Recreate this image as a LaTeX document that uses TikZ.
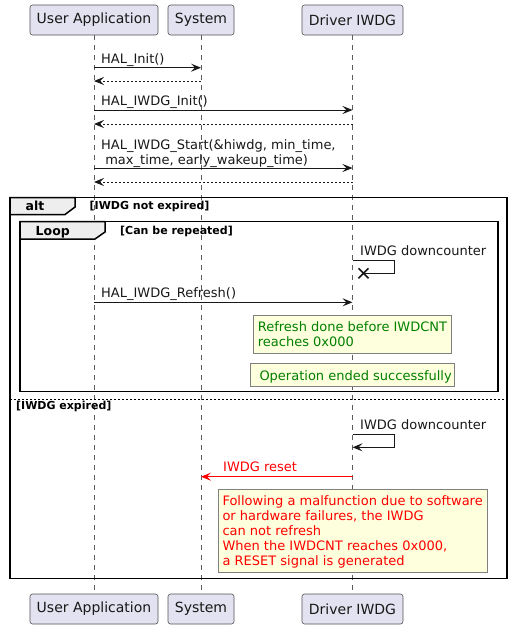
\documentclass[tikz,border=0pt]{standalone}
\usepackage{fontspec}
\setmainfont{DejaVu Sans}
\usetikzlibrary{arrows.meta,calc}
\definecolor{partfill}{HTML}{E2E2F0}
\definecolor{notefill}{HTML}{FEFFDD}
\definecolor{ink}{HTML}{181818}
\definecolor{tabfill}{HTML}{EEEEEE}
\definecolor{okgreen}{HTML}{008000}
\definecolor{errred}{HTML}{FF0000}
\begin{document}
\begin{tikzpicture}[x=1pt,y=-1pt,
  part/.style={draw=ink!75, fill=partfill, rounded corners=2.5, line width=0.6,
    font=\fontsize{14}{16}\selectfont, text=ink, inner sep=0},
  life/.style={draw=ink!70, line width=0.6, dash pattern=on 5pt off 5pt},
  msg/.style={draw=ink, line width=1, -{Stealth[length=10pt,width=8pt,inset=4pt]}},
  ret/.style={msg, dash pattern=on 2pt off 2pt},
  lbl/.style={anchor=base west, inner sep=0, text=ink, font=\fontsize{13}{15}\selectfont},
  mlbl/.style={anchor=north west, inner sep=0, align=left, font=\fontsize{13}{15}\selectfont},
  frame/.style={draw=black, line width=1.5},
  tab/.style={draw=black, line width=1.5, fill=tabfill},
  kw/.style={anchor=base west, inner sep=0, text=black, font=\fontsize{12.5}{14}\selectfont\bfseries},
  guard/.style={anchor=base west, inner sep=0, text=black, font=\fontsize{11}{13}\selectfont\bfseries},
  notebox/.style={draw=black!50, line width=0.6, fill=notefill},
]
\useasboundingbox[fill=white] (0,0) rectangle (513,629);

% participants
\node[part, minimum width=128, minimum height=30] (ua)  at (94,20)    {User Application};
\node[part, minimum width=66,  minimum height=30] (sys) at (201,20)   {System};
\node[part, minimum width=101, minimum height=30] (drv) at (352.5,20) {Driver IWDG};
\node[part, minimum width=128, minimum height=30] (uab)  at (94,609)    {User Application};
\node[part, minimum width=66,  minimum height=30] (sysb) at (201,609)   {System};
\node[part, minimum width=101, minimum height=30] (drvb) at (352.5,609) {Driver IWDG};

% lifelines
\draw[life] (ua.south) -- (uab.north);
\draw[life] (sys.south) -- (sysb.north);
\draw[life] (drv.south) -- (drvb.north);

% frames (drawn before messages)
\draw[frame] (10,197.5) rectangle (507,578.3);
\draw[tab] (10,197.5) -- (75,197.5) -- (75,207) -- (65,214.5) -- (10,214.5) -- cycle;
\node[kw] (altkw) at (25.5,210.5) {alt};
\node[guard] (g1) at (89.5,209.5) {[IWDG not expired]};

\draw[frame] (20,221.7) rectangle (498,391.7);
\draw[tab] (20,221.7) -- (105,221.7) -- (105,232) -- (95,239) -- (20,239) -- cycle;
\node[kw] (loopkw) at (35.5,235) {Loop};
\node[guard] (g2) at (120,234.5) {[Can be repeated]};

\draw[draw=black, line width=0.8, dash pattern=on 2pt off 2pt] (10,399.3) -- (507,399.3);
\node[guard] (g3) at (16,409) {[IWDG expired]};

% messages
\node[lbl] (m1) at (101,63.5) {HAL\_Init()};
\draw[msg] (ua.south |- 0,67.7) -- (sys.south |- 0,67.7);
\draw[ret] (sys.south |- 0,81) -- (ua.south |- 0,81);

\node[lbl] (m2) at (101,105.8) {HAL\_IWDG\_Init()};
\draw[msg] (ua.south |- 0,110) -- (drv.south |- 0,110);
\draw[ret] (drv.south |- 0,124) -- (ua.south |- 0,124);

\node[mlbl, text=ink] (m3) at (101,139.2) {HAL\_IWDG\_Start(\&hiwdg, min\_time,\\\ max\_time, early\_wakeup\_time)};
\draw[msg] (ua.south |- 0,168) -- (drv.south |- 0,168);
\draw[ret] (drv.south |- 0,182) -- (ua.south |- 0,182);

% loop body
\node[lbl] (s1) at (360,255) {IWDG downcounter};
\coordinate (s1a) at (394,260);
\coordinate (s1b) at (394,273.3);
\coordinate (s1x) at (363.5,273.3);
\draw[draw=ink, line width=1] (drv.south |- s1a) -- (s1a) -- (s1b) -- (s1x);
\draw[draw=ink, line width=1.5] ($(s1x)+(-5,-5)$) -- ($(s1x)+(5,5)$) ($(s1x)+(-5,5)$) -- ($(s1x)+(5,-5)$);

\node[lbl] (m4) at (101,297.5) {HAL\_IWDG\_Refresh()};
\draw[msg] (ua.south |- 0,302.3) -- (drv.south |- 0,302.3);

\draw[notebox] (253.3,315.7) rectangle (451,353.3);
\node[mlbl, text=okgreen] (n1) at (257.7,321.8) {Refresh done before IWDCNT\\reaches 0x000};

\draw[notebox] (250.7,363.3) rectangle (454.3,386);
\node[lbl, text=okgreen] (n2) at (259.3,380) {Operation ended successfully};

% expired branch
\node[lbl] (s2) at (360,429.3) {IWDG downcounter};
\coordinate (s2a) at (394,434.3);
\coordinate (s2b) at (394,447.3);
\draw[msg] (drv.south |- s2a) -- (s2a) -- (s2b) -- (drv.south |- s2b);

\node[lbl, text=errred] (m5) at (223,471.7) {IWDG reset};
\draw[msg, draw=errred] (drv.south |- 0,476.7) -- (sys.south |- 0,476.7);

\draw[notebox] (218.3,489.3) rectangle (487.7,572.3);
\node[mlbl, text=errred] (n3) at (222.3,495.8) {Following a malfunction due to software\\or hardware failures, the IWDG\\can not refresh\\When the IWDCNT reaches 0x000,\\a RESET signal is generated};
\end{tikzpicture}
\end{document}
